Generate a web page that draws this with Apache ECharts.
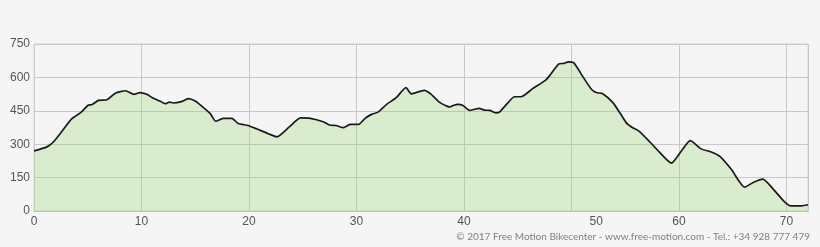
<!DOCTYPE html>
<html>
<head>
<meta charset="utf-8">
<script src="https://cdn.jsdelivr.net/npm/echarts@6/dist/echarts.min.js"></script>
<style>
html,body{margin:0;padding:0;background:#f5f5f5;}
#c{width:820px;height:247px;}
</style>
</head>
<body>
<div id="c"></div>
<script>
// distance (km)
var distanceKm = [0,1.2,1.8,2.6,3.5,4.4,5.0,5.4,6.0,6.8,7.6,8.5,9.3,9.85,10.5,11.1,11.7,12.2,12.6,12.95,13.7,14.35,15.0,15.6,16.4,16.9,17.6,18.4,19.0,19.9,20.7,21.8,22.6,23.8,24.8,25.7,26.9,27.5,28.1,28.8,29.4,30.2,30.8,31.4,32.0,32.8,33.7,34.6,35.1,36.3,36.9,37.7,38.4,38.7,39.0,39.45,39.9,40.5,40.85,41.4,41.9,42.4,42.95,43.3,44.1,44.7,45.3,46.4,47.6,48.0,48.8,49.3,49.7,50.2,51.1,51.85,52.3,52.9,53.85,54.5,55.1,55.7,56.3,57.3,58.2,59.3,60.2,61.05,62.05,63.0,63.8,64.9,66.1,66.9,67.8,68.7,69.8,70.4,71.4,72];
// elevation (m)
var elevationM = [270,288,310,358,414,444,474,478,497,500,530,540,524,532,524,506,494,482,489,485,491,505,494,471,437,403,416,416,393,384,369,347,333,380,418,416,401,386,384,374,389,389,416,434,444,479,509,554,526,542,526,489,471,467,474,479,474,452,455,461,453,452,441,444,487,513,513,550,588,610,660,663,670,666,600,547,532,527,487,441,396,374,358,310,263,215,268,316,279,265,245,185,107,128,143,102,42,23,23,28];
// x tick labels and where they are printed
var xTickLabels = ['0','10','20','30','40','50','60','70'];
var xTickLabelAt = [0,10,20,30,40,52.3,60,70];
var yTicks = [0,150,300,450,600,750];
var credit = '\u00a9 2017 Free Motion Bikecenter - www.free-motion.com - Tel.: +34 928 777 479';

var pts = distanceKm.map(function(d,i){return [d, elevationM[i]];});
var chart = echarts.init(document.getElementById('c'), null, {renderer:'canvas'});
chart.setOption({
  backgroundColor:'#f5f5f5',
  animation:false,
  grid:{left:34,right:12,top:44,bottom:36,show:true,borderColor:'#d4d4d4',borderWidth:1,backgroundColor:'transparent'},
  xAxis:{
    type:'value',min:0,max:72,interval:10,
    axisLine:{show:true,lineStyle:{color:'#b8c6ac',width:1}},
    axisTick:{show:false},
    splitLine:{show:true,lineStyle:{color:'#c8c8c8',width:1}},
    axisLabel:{
      customValues:xTickLabelAt,
      showMinLabel:true,showMaxLabel:true,
      color:'#555',fontSize:12,fontFamily:'Liberation Sans, Arial, sans-serif',margin:5,
      formatter:function(v){
        for(var i=0;i<xTickLabelAt.length;i++){ if(Math.abs(xTickLabelAt[i]-v)<0.01) return xTickLabels[i]; }
        return '';
      }
    }
  },
  yAxis:{
    type:'value',min:yTicks[0],max:yTicks[yTicks.length-1],interval:150,
    axisLine:{show:true,lineStyle:{color:'#d0d0d0',width:1}},
    axisTick:{show:false},
    splitLine:{show:true,lineStyle:{color:'#c8c8c8',width:1}},
    axisLabel:{color:'#555',fontSize:12,fontFamily:'Liberation Sans, Arial, sans-serif',margin:4}
  },
  series:[{
    type:'line',data:pts,showSymbol:false,smooth:0.2,
    lineStyle:{color:'#1a1a1a',width:1.7},
    areaStyle:{color:'rgba(150,215,110,0.42)'},
    z:3
  }],
  graphic:[{
    type:'text',right:10,top:232,
    style:{text:credit,fill:'#808080',font:'10px Lato, "Open Sans", sans-serif',textAlign:'right'}
  }]
});
</script>
</body>
</html>
